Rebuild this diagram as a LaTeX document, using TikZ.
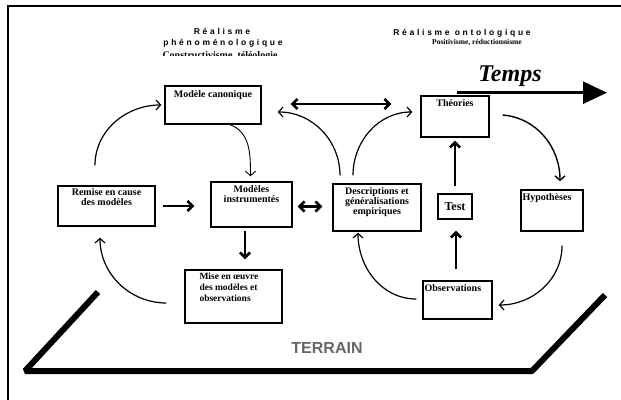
\documentclass[tikz,border=0pt]{standalone}
\usepackage{fontspec}
\setmainfont{Liberation Serif}
\newfontfamily\spacedfont[LetterSpace=32]{Liberation Sans}
\newfontfamily\terrainfont{Liberation Sans}
\usetikzlibrary{arrows.meta}
\usetikzlibrary{positioning}

\begin{document}
\begin{tikzpicture}[x=1pt,y=1pt,
  box/.style={draw, line width=1.4pt, inner sep=0pt},
  boxtxt/.style={inner sep=0pt, align=center, font=\bfseries\fontsize{10}{10}\selectfont},
  spaced/.style={inner sep=0pt, anchor=base, font=\spacedfont\bfseries\fontsize{8.5}{9}\selectfont},
  heavy/.style={line width=2.6pt, -{Straight Barb[length=5pt,width=10pt]}},
  heavyboth/.style={line width=2.6pt, {Straight Barb[length=5pt,width=10pt]}-{Straight Barb[length=5pt,width=10pt]}},
  curvy/.style={line width=1.2pt, -{Straight Barb[length=4.5pt,width=10pt]}},
  ground/.style={line width=6pt, line join=bevel}]
\useasboundingbox (0,0) rectangle (621,399);
% cadre
\draw[line width=1.5pt] (8,-20) -- (8,393) -- (650,393);

% titres
\begin{scope}
  \clip (100,343) rectangle (350,385);
  \node[spaced] (real1) at (222,364) {Réalisme};
  \node[spaced] (pheno) at (223,353) {phénoménologique};
  \node[inner sep=0pt, anchor=base, font=\bfseries\fontsize{10}{10}\selectfont] (constr) at (220,340) {Constructivisme, téléologie};
\end{scope}
\node[spaced] (real2) at (462,363) {Réalisme ontologique};
\node[inner sep=0pt, anchor=base, font=\bfseries\fontsize{7.5}{9}\selectfont] (posit) at (477,354) {Positivisme, réductionnisme};

% temps
\node[inner sep=0pt, anchor=base, font=\bfseries\itshape\fontsize{24}{24}\selectfont] (temps) at (510,317) {Temps};
\coordinate (t0) at (457,306.3);
\coordinate (t1) at (607,306.3);
\draw[line width=2.5pt, -{Triangle[length=24pt,width=22pt]}] (t0) -- (t1);

% boites
\node[box, minimum width=96pt, minimum height=38pt] (canon) at (213,294) {};
\node[box, minimum width=68pt, minimum height=41pt] (theo) at (455,282.5) {};
\node[box, minimum width=97pt, minimum height=40pt] (remise) at (106.5,193) {};
\node[box, minimum width=81pt, minimum height=45pt] (instr) at (251.5,194.5) {};
\node[box, minimum width=88pt, minimum height=47pt] (descr) at (377,191.5) {};
\node[box, minimum width=34pt, minimum height=25pt, font=\bfseries\fontsize{12}{12}\selectfont] (test) at (455,192.5) {Test};
\node[box, minimum width=62pt, minimum height=41pt] (hypo) at (552,188.5) {};
\node[box, minimum width=97pt, minimum height=53pt] (mise) at (233.5,102.5) {};
\node[box, minimum width=69pt, minimum height=38pt] (obs) at (457.5,99) {};

\node[boxtxt, below=5pt of canon.north] (canon-t) {Modèle canonique};
\node[boxtxt, below=4pt of theo.north] (theo-t) {Théories};
\node[boxtxt, below=3pt of remise.north] (remise-t) {Remise en cause\\des modèles};
\node[boxtxt, below=4pt of instr.north] (instr-t) {Modèles\\instrumentés};
\node[boxtxt, below=4pt of descr.north] (descr-t) {Descriptions et\\généralisations\\empiriques};
\node[boxtxt, below right=4pt and 2pt of hypo.north west] (hypo-t) {Hypothèses};
\node[boxtxt, align=left, font=\bfseries\fontsize{9.5}{11}\selectfont, below right=3pt and 15pt of mise.north west] (mise-t) {Mise en \oe uvre\\des modèles et\\observations};
\node[boxtxt, below right=4pt and 2pt of obs.north west] (obs-t) {Observations};

% fleches
\draw[heavyboth, shorten <=29pt, shorten >=29pt] ([yshift=1pt]canon.east) -- ([yshift=1pt]canon.east -| theo.west);
\draw[curvy] ([xshift=-37pt,yshift=8pt]descr.north) to[out=90,in=0] ([xshift=16pt,yshift=-7pt]canon.east);
\draw[curvy] ([xshift=-24pt,yshift=8pt]descr.north) to[out=90,in=180] ([xshift=-8pt,yshift=4.5pt]theo.west);
\draw[curvy, line width=0.9pt] ([xshift=17pt]canon.south) to[out=-20,in=90] ([xshift=-1pt,yshift=5pt]instr.north);
\draw[curvy] ([xshift=-11.5pt,yshift=20pt]remise.north) to[out=90,in=180] ([xshift=-3pt]canon.west);
\draw[heavy, shorten <=7pt, shorten >=16pt] (remise.east) -- (remise.east -| instr.west);
\draw[heavyboth, shorten <=5pt, shorten >=10pt] ([yshift=-2pt]instr.east) -- ([yshift=-2pt]instr.east -| descr.west);
\draw[heavy, shorten <=3pt, shorten >=10pt] ([xshift=-6.5pt]instr.south) -- ([xshift=-6.5pt]instr.south |- mise.north);
\draw[curvy] ([xshift=-18pt,yshift=-6.5pt]mise.west) to[out=180,in=-90] ([xshift=-6.5pt,yshift=-11pt]remise.south);
\draw[curvy] ([xshift=-6pt,yshift=1pt]obs.west) to[out=180,in=-90] ([xshift=-19pt,yshift=-1pt]descr.south);
\draw[heavy, shorten <=11pt, shorten >=11pt] ([xshift=-1.5pt]obs.north) -- ([xshift=-1.5pt]obs.north |- test.south);
\draw[heavy, shorten <=7pt, shorten >=3pt] (test.north) -- (theo.south);
\draw[curvy, line width=1.4pt] ([xshift=13pt,yshift=1.5pt]theo.east) to[out=-5,in=90] ([xshift=8pt,yshift=8pt]hypo.north);
\draw[curvy] ([xshift=10pt,yshift=-14pt]hypo.south) to[out=-90,in=0] ([xshift=6pt,yshift=-5pt]obs.east);

% terrain
\coordinate (g1) at (98,107);
\coordinate (g2) at (25,28);
\coordinate (g3) at (532,28);
\coordinate (g4) at (605,104);
\draw[ground] (g1) -- (g2) -- (g3) -- (g4);
\node[inner sep=0pt, text=black!60, font=\terrainfont\bfseries\fontsize{16}{16}\selectfont] (terrain) at (327,51) {TERRAIN};
\end{tikzpicture}
\end{document}
